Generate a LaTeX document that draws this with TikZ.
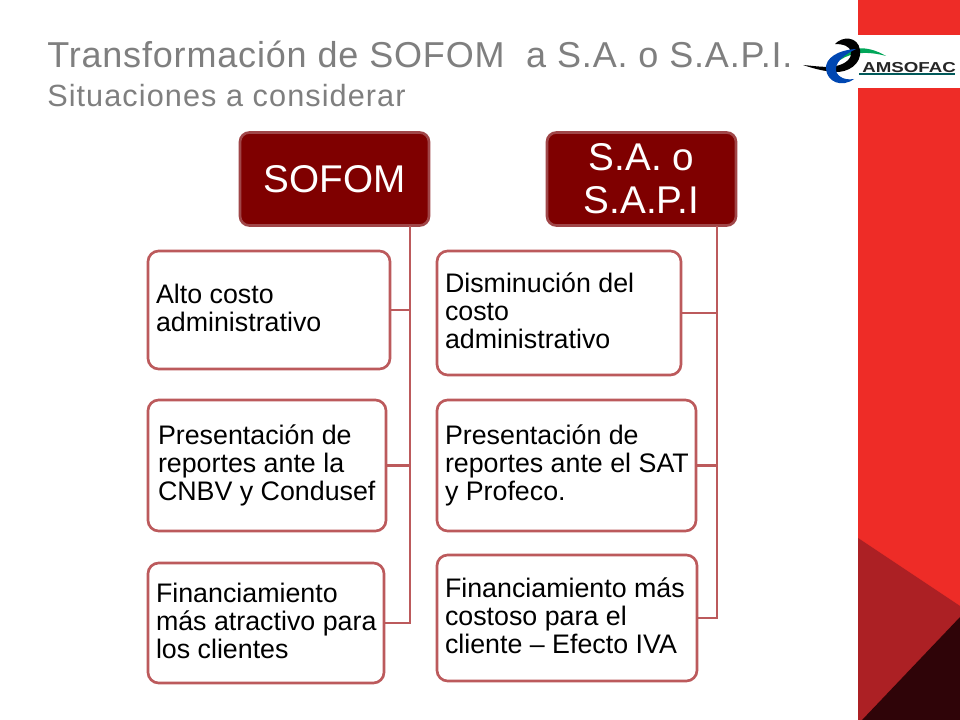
\documentclass[tikz,border=0pt]{standalone}
\usepackage{fontspec}
\setmainfont{Liberation Sans}
\newfontfamily\titlefont[LetterSpace=2.3]{Liberation Sans}
\newfontfamily\subtitlefont[LetterSpace=3.5]{Liberation Sans}
\newfontfamily\logofont[FakeStretch=1.3]{Liberation Sans}
\newcommand{\liftline}{\rule[-3pt]{0pt}{3pt}}
\definecolor{barred}{HTML}{EE2C27}
\definecolor{midred}{HTML}{AC2024}
\definecolor{darkred}{HTML}{2F0408}
\definecolor{rootfill}{HTML}{7F0000}
\definecolor{rootline}{HTML}{A04648}
\definecolor{leafline}{HTML}{BC5A5C}
\definecolor{titlegray}{HTML}{7F7F7F}
\begin{document}
\begin{tikzpicture}[x=0.75pt,y=-0.75pt,
    rootbox/.style={draw=rootline, line width=2pt, fill=rootfill, rounded corners=7pt, text=white,
        font=\fontsize{29}{32}\selectfont, align=center, inner sep=0pt, minimum height=69.75pt, minimum width=141.75pt},
    leafbox/.style={draw=leafline, line width=2pt, fill=white, rounded corners=8pt,
        font=\fontsize{20.1}{21}\selectfont, align=flush left, inner xsep=6pt, inner ysep=0pt},
    branch/.style={draw=leafline, line width=2pt}]
    \useasboundingbox (0,0) rectangle (960,720);

    % Fondo
    \fill[white] (0,0) rectangle (960,720);
    \fill[barred] (858,0) rectangle (960,720);
    \fill[white] (858,35) rectangle (960,88);
    \fill[midred] (858,538) -- (960,606) -- (960,617) -- (862,720) -- (858,720) -- cycle;
    \fill[darkred] (960,617) -- (862,720) -- (960,720) -- cycle;

    % Titulo
    \node (title) at (47,54) [anchor=west, inner sep=0pt, text=titlegray, font=\titlefont\fontsize{27}{30}\selectfont] {Transformación de SOFOM\ \ a S.A. o S.A.P.I.};
    \node (subtitle) at (47,96) [anchor=west, inner sep=0pt, text=titlegray, font=\subtitlefont\fontsize{23}{25}\selectfont] {Situaciones a considerar};

    % Logo
    \fill[teal!70!green] (837,58) .. controls (848,47) and (866,44) .. (886,56) .. controls (868,51) and (852,52) .. (840,60) -- cycle;
    \fill[black] (803,65) .. controls (815,66) and (826,68) .. (836,66) .. controls (846,64) and (852,58) .. (851,52) .. controls (850,46) and (843,44) .. (835,44) .. controls (842,36) and (858,36) .. (860,50) .. controls (862,64) and (848,73) .. (834,72) .. controls (822,71) and (812,68) .. (803,65) -- cycle;
    \fill[blue!60!cyan!70!black] (856,49) .. controls (838,50) and (825,58) .. (826,69) .. controls (827,82) and (842,88) .. (854,79) .. controls (843,81) and (835,75) .. (836,68) .. controls (837,60) and (846,54) .. (856,49) -- cycle;
    \node (logotext) at (862,67.5) [anchor=west, inner sep=0pt, text=black!85, font=\logofont\fontsize{10.8}{12}\selectfont\bfseries] {AMSOFAC};
    \fill[teal!70!black] (859,73.5) rectangle (955,75);

    % Raices
    \node (sofom) at (334.5,179) [rootbox] {SOFOM};
    \node (sapi) at (641.5,179) [rootbox] {S.A. o\\S.A.P.I};
    \coordinate (sofomTrunk) at (410,226);
    \coordinate (sapiTrunk) at (717,226);

    % Columna izquierda
    \node (alto) at (269,310) [leafbox, text width=169.5pt, minimum height=88.5pt] {Alto costo\\administrativo\liftline};
    \node (reportesA) at (267,465.5) [leafbox, inner xsep=7.5pt, text width=163.5pt, minimum height=98.25pt] {Presentación de\\reportes ante la\\\mbox{CNBV y Condusef}};
    \node (financiaA) at (266,623) [leafbox, text width=165pt, minimum height=90pt] {Financiamiento\\\mbox{más atractivo para}\\los clientes\liftline};

    % Columna derecha
    \node (disminucion) at (559,313) [leafbox, text width=171pt, minimum height=93pt] {Disminución del\\costo\\administrativo\liftline};
    \node (reportesB) at (566.5,465.5) [leafbox, text width=182.25pt, minimum height=98.25pt] {Presentación de\\\mbox{reportes ante el SAT}\\y Profeco.};
    \node (financiaB) at (567,618) [leafbox, text width=183pt, minimum height=94.5pt] {\mbox{Financiamiento más}\\costoso para el\\\mbox{cliente – Efecto IVA}\liftline};

    % Conexiones
    \draw[branch] (sofomTrunk) |- (alto.east);
    \draw[branch] (sofomTrunk) |- (reportesA.east);
    \draw[branch] (sofomTrunk) |- (financiaA.east);
    \draw[branch] (sapiTrunk) |- (disminucion.east);
    \draw[branch] (sapiTrunk) |- (reportesB.east);
    \draw[branch] (sapiTrunk) |- (financiaB.east);
\end{tikzpicture}
\end{document}
